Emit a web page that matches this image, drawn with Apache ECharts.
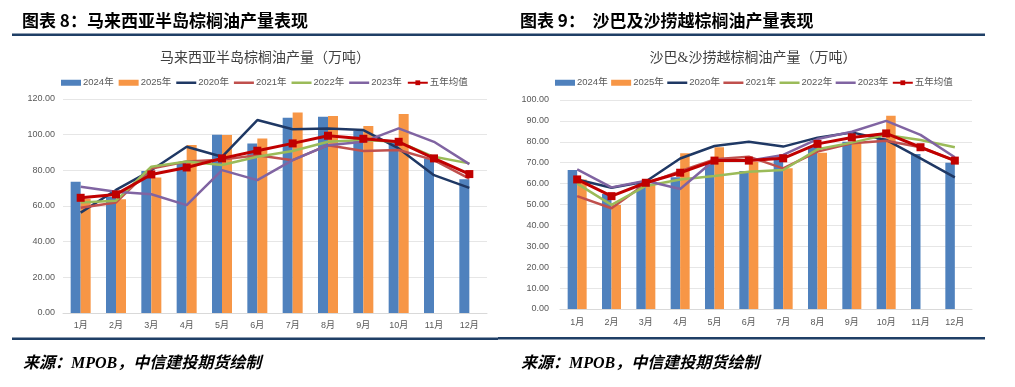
<!DOCTYPE html>
<html>
<head>
<meta charset="utf-8">
<script src="https://cdn.jsdelivr.net/npm/echarts@6/dist/echarts.min.js"></script>
<style>
html,body{margin:0;padding:0;background:#fff;}
#c{width:1015px;height:387px;}
</style>
</head>
<body>
<div id="c"></div>
<script>
// ---- data ----
const months = ['1月','2月','3月','4月','5月','6月','7月','8月','9月','10月','11月','12月'];
const seriesNames = ['2024年','2025年','2020年','2021年','2022年','2023年','五年均值'];

// 马来西亚半岛 (万吨)
const pen2024 = [73.6, 65, 79.6, 84.3, 100, 95.1, 109.5, 110.1, 102.1, 96.5, 86.7, 75];
const pen2025 = [64, 63.8, 76, 94.2, 99.8, 97.9, 112.5, 110.5, 104.8, 111.6, null, null];
const pen2020 = [56.3, 69, 80, 93.2, 87.6, 108.2, 103, 103.5, 102.6, 92.3, 77.3, 70.2];
const pen2021 = [59, 62, 81, 85, 86, 88.5, 85.7, 94.1, 90.8, 91.4, 85.7, 75.4];
const pen2022 = [62, 63, 82, 85, 83, 87.6, 90.8, 96, 97, 96, 87.6, 83.9];
const pen2023 = [70.8, 68, 66.6, 60.5, 80.1, 74.5, 85.7, 94.1, 96, 103.5, 96, 83.5];
const penAvg  = [64.6, 66.5, 77.7, 81.6, 86.7, 91, 95.1, 99.4, 97.7, 96, 86.7, 77.9];
const penTicks = [0, 120, 20];   // min, max, interval

// 沙巴&沙捞越 (万吨)
const sab2024 = [66.5, 55, 60, 63, 70, 66, 71.3, 78, 80, 81.7, 74.2, 70];
const sab2025 = [62, 49.8, 59.8, 74.5, 77.4, 70.5, 67.3, 74.8, 79.3, 92.5, null, null];
const sab2020 = [62, 58, 61, 72, 78, 80, 77.7, 82, 84.5, 80.9, 72.1, 63];
const sab2021 = [54, 48.2, 60, 66, 71.6, 72.9, 67.3, 75.3, 79.3, 80.5, 77.4, 71];
const sab2022 = [60, 49.8, 58.9, 62, 63.6, 65.7, 66.5, 76.4, 79.6, 83.3, 80.9, 77.4];
const sab2023 = [66.8, 58.2, 61.4, 57.4, 71.3, 71, 73.7, 81.3, 84.8, 90, 83.3, 72.6];
const sabAvg  = [62, 54, 60.4, 65.2, 71, 71, 72.1, 79, 82.1, 84, 77.4, 71];
const sabTicks = [0, 100, 10];

// ---- styles ----
const colors = {
  '2024年':'#4F81BD','2025年':'#F79646','2020年':'#1F3864','2021年':'#C0504D',
  '2022年':'#9BBB59','2023年':'#8064A2','五年均值':'#C00000'
};
const axisFont = {color:'#595959', fontSize:9, fontFamily:'Liberation Sans, Noto Sans CJK SC, sans-serif'};

function buildSeries(idx, d, bw){
  const out = [];
  d.forEach((arr, i) => {
    const name = seriesNames[i];
    if (i < 2) {
      out.push({type:'bar', name, xAxisIndex:idx, yAxisIndex:idx, data:arr,
        barWidth:bw, barGap:'0%', itemStyle:{color:colors[name]}, z:1});
    } else if (i < 6) {
      out.push({type:'line', name, xAxisIndex:idx, yAxisIndex:idx, data:arr,
        symbol:'none', lineStyle:{width:2.5, color:colors[name]}, itemStyle:{color:colors[name]}, z:3+i});
    } else {
      out.push({type:'line', name, xAxisIndex:idx, yAxisIndex:idx, data:arr,
        symbol:'rect', symbolSize:8, lineStyle:{width:3, color:colors[name]},
        itemStyle:{color:colors[name]}, z:10});
    }
  });
  return out;
}

const lineIcon = 'path://M0,0H40V5H0Z';
const legendData = seriesNames.map((n, i) => {
  if (i < 2) return {name:n, icon:'rect'};
  if (i < 6) return {name:n, icon:lineIcon};
  return {name:n};
});
function legendAt(left, gap){
  return {
    data: legendData, left, top:73, itemWidth:20, itemHeight:6, itemGap:gap,
    textStyle:{color:'#595959', fontSize:9.5, fontFamily:'Liberation Sans, Noto Sans CJK SC, sans-serif', padding:[0,0,0,-3]},
    selectedMode:false
  };
}

const chart = echarts.init(document.getElementById('c'), null, {renderer:'canvas'});
const option = {
  backgroundColor:'#fff',
  animation:false,
  title:[
    {text:'马来西亚半岛棕榈油产量（万吨）', left:260, top:46, textAlign:'center',
     textStyle:{fontSize:14, fontWeight:'normal', color:'#404040', fontFamily:'Liberation Serif, Noto Sans CJK SC, serif'}},
    {text:'沙巴&沙捞越棕榈油产量（万吨）', left:748, top:46, textAlign:'center',
     textStyle:{fontSize:14, fontWeight:'normal', color:'#404040', fontFamily:'Liberation Serif, Noto Sans CJK SC, serif'}}
  ],
  legend:[ legendAt(56, 5), legendAt(550, 3.5) ],
  grid:[
    {left:63, top:99, width:424, height:214},
    {left:560, top:100, width:412, height:209}
  ],
  xAxis:[0,1].map(i => ({
    type:'category', gridIndex:i, data:months,
    axisLine:{lineStyle:{color:'#D9D9D9', width:1}}, axisTick:{show:false},
    axisLabel:Object.assign({margin:i===0 ? 8 : 9, interval:0}, axisFont)
  })),
  yAxis:[penTicks, sabTicks].map((t,i) => ({
    type:'value', gridIndex:i, min:t[0], max:t[1], interval:t[2],
    axisLine:{show:false}, axisTick:{show:false},
    splitLine:{lineStyle:{color:'#E6E6E6', width:1}},
    axisLabel:Object.assign({margin: i===0 ? 8 : 11, formatter: v => v.toFixed(2)}, axisFont)
  })),
  series: buildSeries(0, [pen2024,pen2025,pen2020,pen2021,pen2022,pen2023,penAvg], 10)
    .concat(buildSeries(1, [sab2024,sab2025,sab2020,sab2021,sab2022,sab2023,sabAvg], 9.5)),
  graphic:[
    {type:'text', left:22, top:12, style:{text:'图表 8：马来西亚半岛棕榈油产量表现', fill:'#000',
      font:'bold 17px "Noto Sans CJK SC", sans-serif'}},
    {type:'text', left:520, top:12, style:{text:'图表 9：  沙巴及沙捞越棕榈油产量表现', fill:'#000',
      font:'bold 17px "Noto Sans CJK SC", sans-serif'}},
    {type:'rect', shape:{x:12, y:33.5, width:973, height:2.5}, style:{fill:'#1F3F66'}},
    {type:'rect', shape:{x:12, y:337.5, width:486, height:2.5}, style:{fill:'#1F3F66'}},
    {type:'rect', shape:{x:498, y:337, width:487, height:2.5}, style:{fill:'#1F3F66'}},
    {type:'text', left:23, top:356, style:{text:'来源：MPOB，中信建投期货绘制', fill:'#000',
      font:'italic bold 16px "Liberation Serif", "Noto Sans CJK SC", serif'}},
    {type:'text', left:521, top:356, style:{text:'来源：MPOB，中信建投期货绘制', fill:'#000',
      font:'italic bold 16px "Liberation Serif", "Noto Sans CJK SC", serif'}}
  ]
};
chart.setOption(option);
</script>
</body>
</html>
